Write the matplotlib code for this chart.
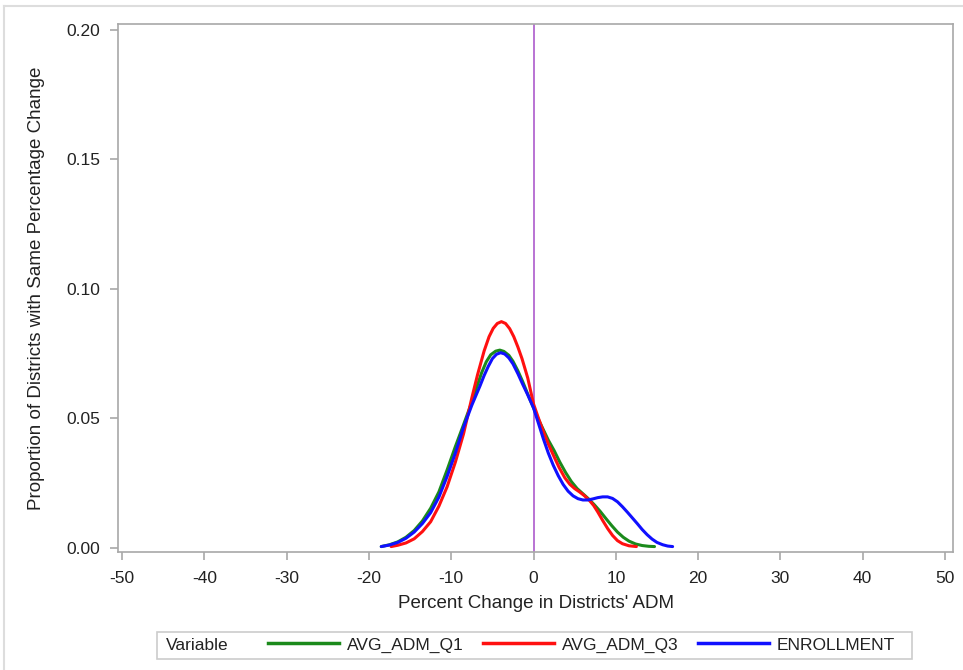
import numpy as np
import matplotlib.pyplot as plt
from matplotlib.lines import Line2D
from matplotlib.patches import Rectangle

plt.rcParams['font.family'] = ['Liberation Sans', 'DejaVu Sans']
plt.rcParams['axes.unicode_minus'] = False

# density estimates of percent change, one per variable
q1_x = [-18.5, -17.5, -16.5, -15.5, -14.5, -13.5, -12.5, -11.5, -10.5, -9.5, -8.5, -7.5,
        -6.9, -6.3, -5.74, -5.2, -4.6, -4.1, -3.6, -3.0, -2.5, -1.9, -1.3, -0.6,
        0.0, 0.6, 1.2, 1.8, 2.5, 3.2, 3.9, 4.6, 5.3, 6.0, 6.7, 7.4, 8.1, 8.8,
        9.5, 10.2, 10.9, 11.6, 12.4, 13.2, 14.0, 14.7]
q1_y = [0.0004, 0.0011, 0.0022, 0.0040, 0.0066, 0.0103, 0.0152, 0.0215, 0.0300, 0.0390, 0.0475, 0.0562,
        0.0620, 0.0676, 0.0718, 0.0745, 0.0759, 0.0763, 0.0758, 0.0743, 0.0720, 0.0683, 0.0640, 0.0585,
        0.0540, 0.0495, 0.0455, 0.0415, 0.0375, 0.0330, 0.0290, 0.0255, 0.0228, 0.0208, 0.0188, 0.0165, 0.0140, 0.0112,
        0.0085, 0.0060, 0.0040, 0.0025, 0.0014, 0.0008, 0.0005, 0.0004]

q3_x = [-17.3, -16.5, -15.5, -14.5, -13.5, -12.5, -11.5, -10.5, -9.5, -8.5, -7.5, -6.8,
        -6.0, -5.4, -4.9, -4.4, -3.9, -3.4, -2.9, -2.4, -1.9, -1.4, -0.7,
        0.0, 0.6, 1.2, 1.8, 2.4, 3.1, 3.8, 4.4, 5.0, 5.6, 6.2, 6.8, 7.3, 7.8,
        8.4, 9.0, 9.6, 10.2, 10.8, 11.6, 12.5]
q3_y = [0.0004, 0.0009, 0.0018, 0.0034, 0.0062, 0.0100, 0.0160, 0.0235, 0.0330, 0.0440, 0.0578, 0.0668,
        0.0760, 0.0815, 0.0847, 0.0866, 0.0873, 0.0866, 0.0846, 0.0815, 0.0775, 0.0730, 0.0655,
        0.0555, 0.0500, 0.0448, 0.0400, 0.0358, 0.0310, 0.0270, 0.0245, 0.0228, 0.0215, 0.0200, 0.0182, 0.0163, 0.0138,
        0.0105, 0.0074, 0.0047, 0.0027, 0.0015, 0.0007, 0.0004]

enr_x = [-18.5, -17.5, -16.5, -15.5, -14.5, -13.5, -12.5, -11.5, -10.5, -9.5, -8.5, -7.5,
         -6.5, -6.0, -5.5, -5.0, -4.5, -4.0, -3.5, -3.0, -2.5, -1.9, -1.3, -0.7,
         0.0, 0.6, 1.2, 1.8, 2.4, 3.0, 3.6, 4.2, 4.8, 5.4, 6.0, 6.6, 7.2, 7.8,
         8.4, 9.0, 9.6, 10.2, 10.8, 11.4, 12.0, 12.6, 13.2, 13.8, 14.4, 15.0,
         15.7, 16.3, 16.9]
enr_y = [0.0004, 0.0010, 0.0020, 0.0036, 0.0060, 0.0093, 0.0135, 0.0195, 0.0275, 0.0365, 0.0465, 0.0550,
         0.0625, 0.0665, 0.0700, 0.0730, 0.0747, 0.0753, 0.0748, 0.0733, 0.0710, 0.0672, 0.0630, 0.0590,
         0.0540, 0.0480, 0.0420, 0.0365, 0.0318, 0.0278, 0.0244, 0.0218, 0.0200, 0.0189, 0.0184, 0.0184, 0.0188, 0.0193,
         0.0196, 0.0196, 0.0190, 0.0177, 0.0158, 0.0137, 0.0115, 0.0093, 0.0070, 0.0050, 0.0033, 0.0020,
         0.0011, 0.0006, 0.0004]

names = ['AVG_ADM_Q1', 'AVG_ADM_Q3', 'ENROLLMENT']
colors = ['#1b8a1b', '#ff1010', '#1010ff']
x_ticks = [-50, -40, -30, -20, -10, 0, 10, 20, 30, 40, 50]
y_ticks = [0.00, 0.05, 0.10, 0.15, 0.20]

W, H = 963, 670
fig = plt.figure(figsize=(W / 100, H / 100), dpi=100)
ax = fig.add_axes([118 / W, 1 - 552 / H, (953 - 118) / W, (552 - 24) / H])

ax.axvline(0, color='#a64dc8', lw=1.1, zorder=1)
for (xs, ys), name, c in zip([(q1_x, q1_y), (q3_x, q3_y), (enr_x, enr_y)], names, colors):
    ax.plot(xs, ys, color=c, lw=2.2, label=name, solid_capstyle='round',
            solid_joinstyle='round', zorder=2)

ax.set_xlim(-50.49, 50.97)
ax.set_ylim(-0.0017, 0.2023)
ax.set_xticks(x_ticks)
ax.set_yticks(y_ticks)
ax.set_yticklabels([f'{v:.2f}' for v in y_ticks])
for s in ax.spines.values():
    s.set_color('#a8a8a8')
    s.set_linewidth(1.2)
ax.tick_params(axis='both', colors='#a8a8a8', labelcolor='#222222', labelsize=12.5,
               length=6, width=1.2)
ax.tick_params(axis='x', pad=8)
ax.tick_params(axis='y', pad=7)
ax.set_xlabel("Percent Change in Districts' ADM", fontsize=13.5, color='#222222', labelpad=6)
ax.set_ylabel('Proportion of Districts with Same Percentage Change', fontsize=13.5,
              color='#222222', labelpad=15)

# legend row at the bottom
fig.patches.append(Rectangle((157 / W, 1 - 659 / H), (912 - 157) / W, 27 / H, transform=fig.transFigure,
                             fill=False, edgecolor='#cccccc', lw=1.2))
fig.text(166 / W, 1 - 645 / H, 'Variable', fontsize=12.5, color='#222222', va='center', ha='left')
handles = [Line2D([], [], color=c, lw=2.5) for c in colors]
fig.legend(handles, names, loc='center left', bbox_to_anchor=(268 / W, 1 - 645 / H), ncol=3,
           frameon=False, fontsize=12.5, borderpad=0, borderaxespad=0, handlelength=4.1,
           handletextpad=0.45, columnspacing=1.1, labelcolor='#222222')

# faint outer border on top and left
fig.add_artist(Line2D([4 / W, 4 / W], [0, 1 - 6 / H], color='#dddddd', lw=1.5, transform=fig.transFigure))
fig.add_artist(Line2D([4 / W, 1], [1 - 6 / H, 1 - 6 / H], color='#dddddd', lw=1.5, transform=fig.transFigure))

fig.savefig('out.png', dpi=100)
